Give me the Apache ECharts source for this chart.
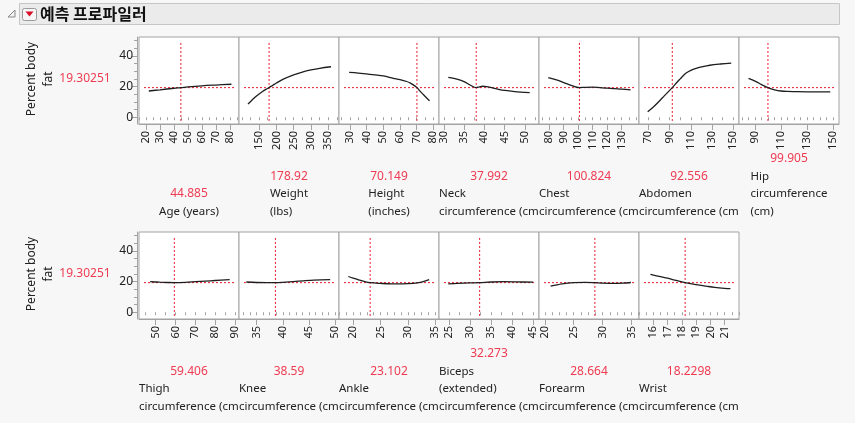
<!DOCTYPE html>
<html>
<head>
<meta charset="utf-8">
<script src="https://cdn.jsdelivr.net/npm/echarts@6/dist/echarts.min.js"></script>
<style>
html,body{margin:0;padding:0;background:#f7f7f7;}
#c{width:855px;height:423px;}
</style>
</head>
<body>
<div id="c"></div>
<script>
// ---------------- data ----------------
const title = '예측 프로파일러';
const responseName = ['Percent body', 'fat'];
const predicted = 19.30251;
const predictedLabel = '19.30251';

const nameLines = [
  ['Age (years)'],
  ['Weight', '(lbs)'],
  ['Height', '(inches)'],
  ['Neck', 'circumference (cm)'],
  ['Chest', 'circumference (cm)'],
  ['Abdomen', 'circumference (cm)'],
  ['Hip', 'circumference', '(cm)'],
  ['Thigh', 'circumference (cm)'],
  ['Knee', 'circumference (cm)'],
  ['Ankle', 'circumference (cm)'],
  ['Biceps', '(extended)', 'circumference (cm)'],
  ['Forearm', 'circumference (cm)'],
  ['Wrist', 'circumference (cm)']
];
const currentValues = [44.885, 178.92, 70.149, 37.992, 100.824, 92.556, 99.905, 59.406, 38.59, 23.102, 32.273, 28.664, 18.2298];
const currentLabels = ['44.885', '178.92', '70.149', '37.992', '100.824', '92.556', '99.905', '59.406', '38.59', '23.102', '32.273', '28.664', '18.2298'];

const axisMin = [15, 92, 23.4, 28.8, 72.9, 61.2, 77.7, 41.6, 31.6, 17.4, 22.6, 19, 15];
const axisMax = [86.4, 381, 83.4, 53.5, 142, 155.4, 154.4, 92, 50.8, 35.7, 46.4, 36.3, 22];

const labelTicks = [
  [20, 30, 40, 50, 60, 70, 80],
  [150, 200, 250, 300, 350],
  [30, 40, 50, 60, 70, 80],
  [30, 35, 40, 45, 50],
  [80, 90, 100, 110, 120, 130],
  [70, 90, 110, 130, 150],
  [90, 110, 130, 150],
  [50, 60, 70, 80, 90],
  [35, 40, 45, 50],
  [20, 25, 30, 35],
  [25, 30, 35, 40, 45],
  [20, 25, 30, 35],
  [16, 17, 18, 19, 20, 21]
];
const minorStep = [5, 25, 5, 2.5, 5, 10, 5, 5, 1.25, 1.25, 2.5, 1.25, 0.5];

const yMin = -4.4, yMax = 52.3;
const yLabelTicks = [0, 20, 40];
const yMinorTicks = [0, 5, 10, 15, 20, 25, 30, 35, 40, 45, 50];

const ageCurve = [[22,17.1],[30,17.9],[40,18.9],[44.885,19.30251],[50,19.8],[60,20.5],[70,21.0],[81,21.5]];
const weightCurve = [[118,8.6],[130,11.3],[140,13.4],[150,15.2],[160,16.8],[170,18.2],[178.92,19.30251],[190,20.9],[200,22.3],[220,24.8],[250,27.6],[275,29.4],[300,30.8],[325,31.9],[358,32.9]];
const heightCurve = [[29.5,29.2],[35,28.8],[40,28.2],[45,27.6],[50,26.9],[56,25.4],[60,24.5],[64,23.3],[66,22.4],[68,21.1],[70.149,19.30251],[72,17.0],[74,14.8],[76,12.6],[77.75,10.8]];
const neckCurve = [[31.1,26.0],[33,25.0],[35,23.2],[36.5,21.0],[37.992,19.30251],[38.8,19.8],[39.6,20.2],[40.5,20.0],[42,19.1],[43.5,18.2],[45,17.5],[47,16.9],[49,16.4],[51.2,16.0]];
const chestCurve = [[79.3,25.8],[85,24.3],[90,22.6],[95,20.8],[100.824,19.30251],[105,19.5],[110,19.6],[115,19.3],[120,19.0],[125,18.6],[130,18.3],[136.2,17.8]];
const abdomenCurve = [[69.4,3.6],[75,6.9],[80,10.3],[85,13.9],[92.556,19.30251],[97,22.8],[100,25.0],[103,27.2],[106,29.0],[110,30.6],[115,31.9],[120,32.8],[128,33.9],[138,34.7],[148.1,35.3]];
const hipCurve = [[85,25.3],[90,23.6],[95,21.3],[99.905,19.30251],[105,17.9],[110,17.1],[115,16.8],[120,16.7],[130,16.6],[140,16.6],[147.7,16.6]];
const thighCurve = [[47.2,19.9],[52,19.6],[56,19.4],[59.406,19.30251],[65,19.5],[70,19.9],[75,20.3],[80,20.7],[87.3,21.2]];
const kneeCurve = [[33,19.7],[35,19.4],[37,19.3],[38.59,19.30251],[40,19.5],[42,20.0],[44,20.5],[46,20.9],[49.1,21.2]];
const ankleCurve = [[19.1,23.3],[20,22.2],[21,21.1],[22,20.1],[23.102,19.30251],[25,18.8],[27,18.5],[29,18.5],[31,18.8],[32.5,19.7],[33.9,21.3]];
const bicepsCurve = [[24.8,18.5],[27,18.8],[30,19.1],[32.273,19.30251],[35,19.7],[38,19.9],[41,19.8],[45,19.6]];
const forearmCurve = [[21,17.0],[23,18.5],[25,19.3],[27,19.5],[28.664,19.30251],[30,19.0],[32,18.8],[33.5,19.0],[34.9,19.4]];
const wristCurve = [[15.8,24.7],[16.5,23.2],[17,22.2],[17.5,21.0],[18.2298,19.30251],[19,18.0],[19.7,17.0],[20.3,16.2],[21,15.6],[21.4,15.4]];

const curves = [ageCurve, weightCurve, heightCurve, neckCurve, chestCurve, abdomenCurve, hipCurve,
                thighCurve, kneeCurve, ankleCurve, bicepsCurve, forearmCurve, wristCurve];

// ---------------- layout / style ----------------
const FONT = '"Noto Sans", "Noto Sans CJK KR", sans-serif';
const NAME_FONT = '11.5px ' + FONT;
const RED_TEXT = '#ee3b52';
const RED_LINE = '#e8192c';
const GRAY = '#a3a3a3';
const PANEL_W = 100, PANEL_H = 87;
const ROW_TOP = [37, 232];
const PANEL_LEFT0 = 139;
const PER_ROW = 7;
const LINE_H = 17.6;

const measureCtx = document.createElement('canvas').getContext('2d');
measureCtx.font = NAME_FONT;
function textW(s) { return measureCtx.measureText(s).width; }

function stepTicks(min, max, step) {
  const out = [];
  let v = Math.ceil(min / step) * step;
  for (; v <= max + 1e-9; v += step) out.push(+v.toFixed(6));
  return out;
}

const grids = [], xAxes = [], yAxes = [], series = [], graphics = [];

// title bar
graphics.push({type:'rect', shape:{x:19.5, y:3.5, width:820, height:21}, style:{fill:'#ebebeb', stroke:'#c6c6c6', lineWidth:1}, silent:true});
graphics.push({type:'polygon', shape:{points:[[15,10],[15,17],[8,17]]}, style:{fill:'#f2f2f2', stroke:'#8a8a8a', lineWidth:1}, silent:true});
graphics.push({type:'rect', shape:{x:22.5, y:8.5, width:14, height:12, r:2}, style:{fill:'#f6f6f6', stroke:'#9a9a9a', lineWidth:1}, silent:true});
graphics.push({type:'polygon', shape:{points:[[25.5,11.5],[33.5,11.5],[29.5,16.5]]}, style:{fill:'#d8102a'}, silent:true});
graphics.push({type:'text', style:{text:title, x:40, y:14, font:'bold 16px "Noto Sans CJK KR", sans-serif', fill:'#111', textAlign:'left', textVerticalAlign:'middle', align:'left', verticalAlign:'middle'}, silent:true});

// response labels per row
ROW_TOP.forEach(function (top) {
  const cy = top + 42;
  graphics.push({type:'text', x:32, y:cy, rotation:Math.PI/2,
    style:{text:responseName[0], x:0, y:0, font:'12px ' + FONT, fill:'#222', textAlign:'center', textVerticalAlign:'middle', align:'center', verticalAlign:'middle'}, silent:true});
  graphics.push({type:'text', x:49, y:cy, rotation:Math.PI/2,
    style:{text:responseName[1], x:0, y:0, font:'12px ' + FONT, fill:'#222', textAlign:'center', textVerticalAlign:'middle', align:'center', verticalAlign:'middle'}, silent:true});
  graphics.push({type:'text', style:{text:predictedLabel, x:85, y:cy, font:'12px ' + FONT, fill:RED_TEXT, textAlign:'center', textVerticalAlign:'middle', align:'center', verticalAlign:'middle'}, silent:true});
});

for (let i = 0; i < curves.length; i++) {
  const row = i < PER_ROW ? 0 : 1;
  const col = row ? i - PER_ROW : i;
  const left = PANEL_LEFT0 + col * PANEL_W;
  const top = ROW_TOP[row];
  const mn = axisMin[i], mx = axisMax[i], rng = mx - mn;

  grids.push({left:left, top:top, width:PANEL_W, height:PANEL_H, show:true, backgroundColor:'#ffffff', borderColor:GRAY, borderWidth:1, containLabel:false});

  const xMain = xAxes.length;
  xAxes.push({gridIndex:i, type:'value', min:mn, max:mx, position:'bottom',
    axisLine:{show:true, onZero:false, lineStyle:{color:GRAY}},
    axisTick:{show:true, customValues:labelTicks[i], length:6, lineStyle:{color:GRAY}},
    axisLabel:{show:true, customValues:labelTicks[i], rotate:90, fontSize:11, color:'#222', margin:7, fontFamily:FONT},
    splitLine:{show:false}});
  xAxes.push({gridIndex:i, type:'value', min:mn, max:mx, position:'bottom',
    axisLine:{show:false},
    axisTick:{show:true, customValues:stepTicks(mn, mx, minorStep[i]), length:3, lineStyle:{color:GRAY}},
    axisLabel:{show:false}, splitLine:{show:false}});

  const yMain = yAxes.length;
  if (col === 0) {
    yAxes.push({gridIndex:i, type:'value', min:yMin, max:yMax, position:'left', offset:2,
      axisLine:{show:true, onZero:false, lineStyle:{color:GRAY}},
      axisTick:{show:true, customValues:yLabelTicks, length:5, lineStyle:{color:GRAY}},
      axisLabel:{show:true, customValues:yLabelTicks, fontSize:12, color:'#222', margin:4, fontFamily:FONT},
      splitLine:{show:false}});
    yAxes.push({gridIndex:i, type:'value', min:yMin, max:yMax, position:'left', offset:2,
      axisLine:{show:false},
      axisTick:{show:true, customValues:yMinorTicks, length:3, lineStyle:{color:GRAY}},
      axisLabel:{show:false}, splitLine:{show:false}});
  } else {
    yAxes.push({gridIndex:i, type:'value', min:yMin, max:yMax, show:false, splitLine:{show:false}});
  }

  const cur = currentValues[i];
  series.push({type:'line', xAxisIndex:xMain, yAxisIndex:yMain, silent:true, animation:false, showSymbol:false, symbol:'none',
    data:[[mn + 0.05 * rng, predicted], [mx - 0.05 * rng, predicted]],
    lineStyle:{color:RED_LINE, width:1, type:[2, 2]}});
  series.push({type:'line', xAxisIndex:xMain, yAxisIndex:yMain, silent:true, animation:false, showSymbol:false, symbol:'none',
    data:[[cur, -2.4], [cur, 48.6]],
    lineStyle:{color:RED_LINE, width:1, type:[2, 2]}});
  series.push({type:'line', xAxisIndex:xMain, yAxisIndex:yMain, silent:true, animation:false, showSymbol:false, symbol:'none',
    smooth:0.35, data:curves[i],
    lineStyle:{color:'#1e1e1e', width:1.3}});

  // text block under panel
  const center = left + PANEL_W / 2;
  const lines = nameLines[i];
  const blockW = Math.max.apply(null, lines.map(textW));
  const blockLeft = Math.max(left, center - blockW / 2);
  const lastY = top + PANEL_H + 87.6;
  lines.forEach(function (s, k) {
    const y = lastY - (lines.length - 1 - k) * LINE_H;
    graphics.push({type:'text', style:{text:s, x:blockLeft, y:y, font:NAME_FONT, fill:'#222',
      width:left + PANEL_W - blockLeft + 1, overflow:'truncate', ellipsis:'',
      textAlign:'left', textVerticalAlign:'middle', align:'left', verticalAlign:'middle'}, silent:true});
  });
  graphics.push({type:'text', style:{text:currentLabels[i], x:center, y:lastY - lines.length * LINE_H, font:'12px ' + FONT, fill:RED_TEXT,
    textAlign:'center', textVerticalAlign:'middle', align:'center', verticalAlign:'middle'}, silent:true});
}

const chart = echarts.init(document.getElementById('c'), null, {renderer:'canvas'});
chart.setOption({
  backgroundColor:'#f7f7f7',
  animation:false,
  textStyle:{fontFamily:FONT},
  grid:grids,
  xAxis:xAxes,
  yAxis:yAxes,
  series:series,
  graphic:{elements:graphics}
});
</script>
</body>
</html>
